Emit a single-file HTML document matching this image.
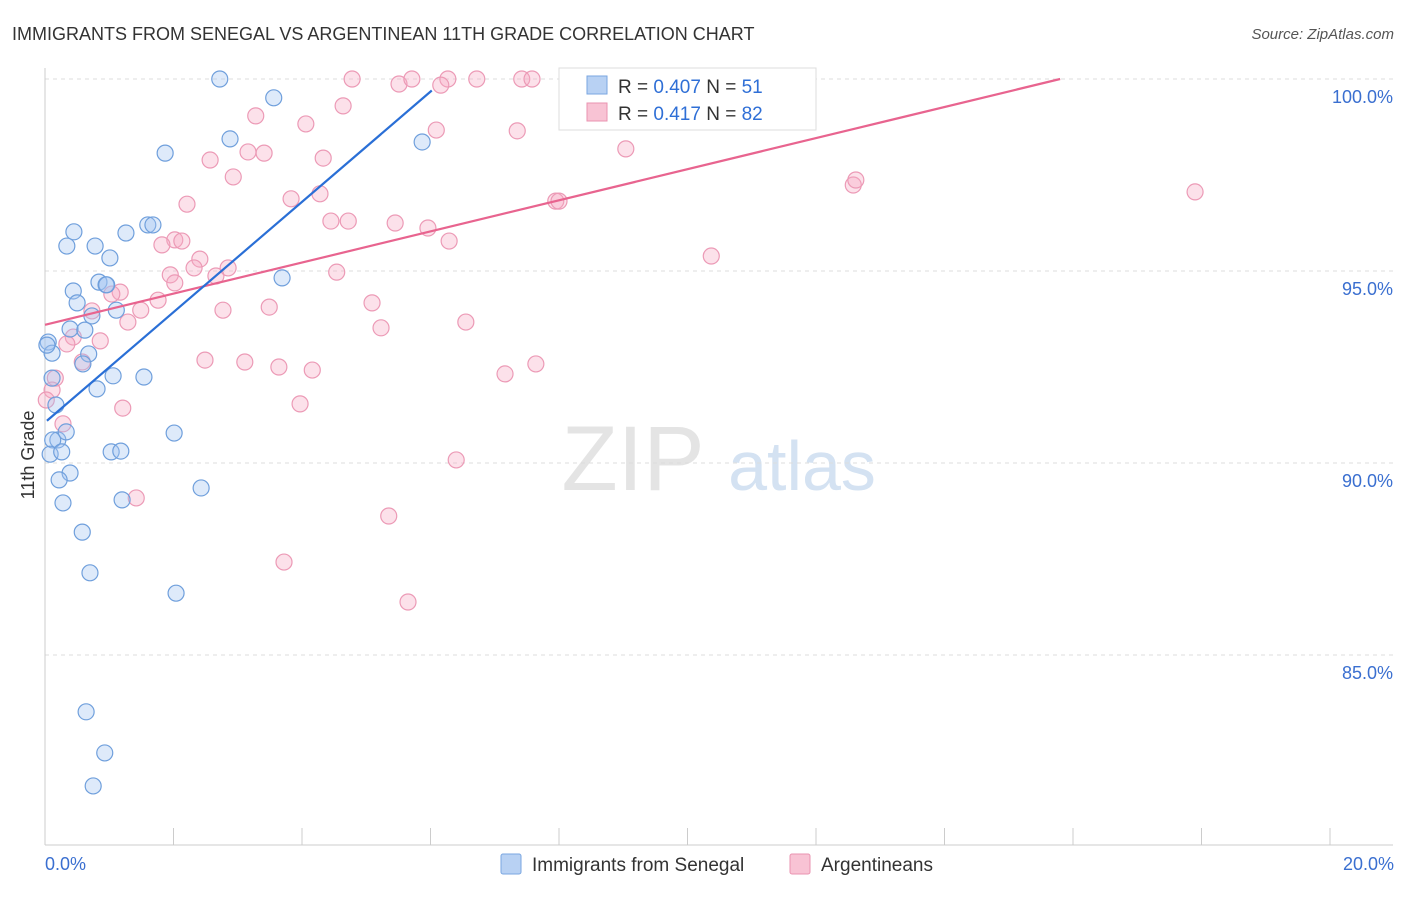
<!DOCTYPE html>
<html><head><meta charset="utf-8"><style>
body{margin:0;background:#fff;font-family:"Liberation Sans",sans-serif}
svg text{font-family:"Liberation Sans",sans-serif}
</style></head><body>
<svg id="c" width="1406" height="892">
<text x="12" y="40" font-size="18" fill="#333">IMMIGRANTS FROM SENEGAL VS ARGENTINEAN 11TH GRADE CORRELATION CHART</text>
<text x="1394" y="39" font-size="15" fill="#555" font-style="italic" text-anchor="end">Source: ZipAtlas.com</text>
<text x="34" y="455" font-size="18" fill="#333" text-anchor="middle" transform="rotate(-90 34 455)">11th Grade</text>
<g><text x="633" y="490" font-size="92" fill="#e4e4e4" font-family="Liberation Serif" text-anchor="middle">ZIP</text><text x="802" y="490" font-size="70" fill="#d4e2f2" text-anchor="middle">atlas</text></g>
<g id="grid"></g><g id="marks"></g>
<text x="45" y="870" font-size="18" fill="#3a6fd0">0.0%</text>
<text x="1394" y="870" font-size="18" fill="#3a6fd0" text-anchor="end">20.0%</text>
<g>
<rect x="559" y="68" width="257" height="62" fill="#fff" stroke="#ddd"/>
<rect x="587" y="76" width="20" height="18" fill="#b8d1f3" stroke="#7aa6e0"/>
<text x="618" y="93" font-size="19" fill="#333">R = <tspan fill="#2f6fd6">0.407</tspan>   N = <tspan fill="#2f6fd6">51</tspan></text>
<rect x="587" y="103" width="20" height="18" fill="#f8c3d4" stroke="#ea93b0"/>
<text x="618" y="120" font-size="19" fill="#333">R =  <tspan fill="#2f6fd6">0.417</tspan>   N = <tspan fill="#2f6fd6">82</tspan></text>
</g>
<g>
<rect x="501" y="854" width="20" height="20" fill="#b8d1f3" stroke="#7aa6e0" rx="2"/>
<text x="532" y="871" font-size="19" fill="#333">Immigrants from Senegal</text>
<rect x="790" y="854" width="20" height="20" fill="#f8c3d4" stroke="#ea93b0" rx="2"/>
<text x="821" y="871" font-size="19" fill="#333">Argentineans</text>
</g>
</svg>
<script>
const yTicks=[100,95,90,85];
const xTicks=[0,2,4,6,8,10,12,14,16,18,20];
const bluePx=[[220,79],[274,98],[165,153],[230,139],[422,142],[148,225],[153,225],[126,233],[74,232],[67,246],[95,246],[110,258],[99,282],[106,285],[73,291],[77,303],[116,310],[92,316],[70,329],[85,330],[48,342],[52,353],[89,354],[83,364],[113,376],[144,377],[97,389],[56,405],[58,440],[53,440],[66,432],[50,454],[62,452],[111,452],[121,451],[174,433],[70,473],[59,480],[201,488],[63,503],[122,500],[82,532],[90,573],[176,593],[86,712],[105,753],[93,786],[282,278],[47,345],[52,378],[107,285]];
const pinkPx=[[352,79],[399,84],[412,79],[448,79],[441,85],[477,79],[522,79],[532,79],[572,79],[656,80],[343,106],[256,116],[306,124],[517,131],[436,130],[248,152],[264,153],[210,160],[323,158],[626,149],[233,177],[291,199],[320,194],[187,204],[331,221],[348,221],[395,223],[428,228],[556,201],[559,201],[853,185],[856,180],[1195,192],[175,240],[182,241],[162,245],[449,241],[200,259],[194,268],[228,268],[216,276],[170,275],[337,272],[175,283],[711,256],[120,292],[112,294],[158,300],[269,307],[223,310],[141,310],[372,303],[128,322],[466,322],[381,328],[92,311],[73,337],[100,341],[67,344],[82,362],[205,360],[245,362],[279,367],[312,370],[505,374],[536,364],[55,378],[300,404],[123,408],[63,424],[456,460],[136,498],[389,516],[284,562],[408,602],[52,390],[46,400]];
// data values (x %, y %) derived from reading the picture
const blueX=bluePx.map(p=>+((p[0]-45)/64.25).toFixed(2));
const blueY=bluePx.map(p=>+(100-(p[1]-79)/38.4).toFixed(2));
const pinkX=pinkPx.map(p=>+((p[0]-45)/64.25).toFixed(2));
const pinkY=pinkPx.map(p=>+(100-(p[1]-79)/38.4).toFixed(2));
const blueLine=[[0.03,91.1],[6.02,99.7]];
const pinkLine=[[0,93.6],[15.8,100]];
const X=v=>45+v*64.25, Y=v=>79+(100-v)*38.4;
const NS='http://www.w3.org/2000/svg';
const g=document.getElementById('grid'), m=document.getElementById('marks');
function el(t,a,p){const e=document.createElementNS(NS,t);for(const k in a)e.setAttribute(k,a[k]);p.appendChild(e);return e;}
yTicks.forEach(v=>{
 const l=el('line',{x1:45,x2:1393,y1:Y(v),y2:Y(v),stroke:'#ddd','stroke-dasharray':'4 4'},g);
 
 
 const t=el('text',{x:1393,y:Y(v)+24,'font-size':18,fill:'#3a6fd0','text-anchor':'end'},g);t.textContent=v.toFixed(1)+'%';
 
 
});
const ax=el('line',{x1:45,x2:45,y1:68,y2:845,stroke:'#ccc'},g);


const bx=el('line',{x1:45,x2:1393,y1:845,y2:845,stroke:'#ccc'},g);


xTicks.forEach(v=>{const t=el('line',{x1:X(v),x2:X(v),y1:828,y2:845,stroke:'#ccc'},g);
 
 });
pinkX.forEach((x,i)=>{const c=el('circle',{cx:X(x),cy:Y(pinkY[i]),r:8,fill:'rgba(245,170,195,0.35)',stroke:'#ec9ab6','stroke-width':1.2},m);
 
 });
blueX.forEach((x,i)=>{const c=el('circle',{cx:X(x),cy:Y(blueY[i]),r:8,fill:'rgba(160,195,240,0.35)',stroke:'#6f9fdc','stroke-width':1.2},m);
 
 });
const pl=el('line',{x1:X(pinkLine[0][0]),y1:Y(pinkLine[0][1]),x2:X(pinkLine[1][0]),y2:Y(pinkLine[1][1]),stroke:'#e8648f','stroke-width':2.2},m);


const bl=el('line',{x1:X(blueLine[0][0]),y1:Y(blueLine[0][1]),x2:X(blueLine[1][0]),y2:Y(blueLine[1][1]),stroke:'#2a6fd6','stroke-width':2.2},m);


</script>
</body></html>
